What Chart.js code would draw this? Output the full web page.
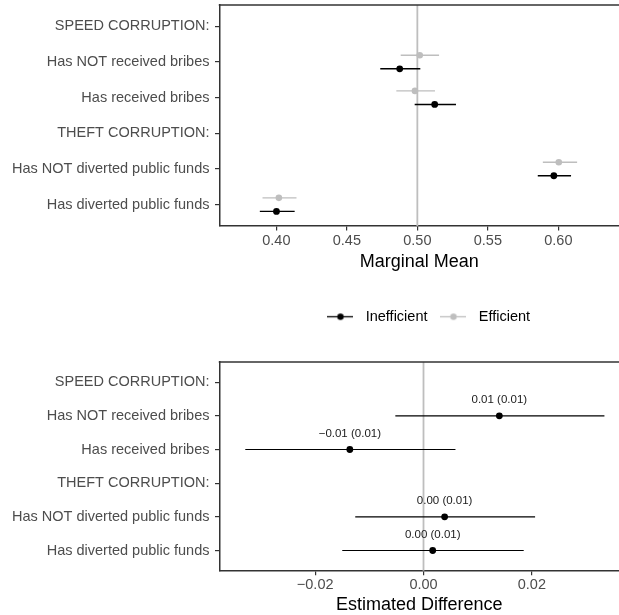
<!DOCTYPE html>
<html>
<head>
<meta charset="utf-8">
<script src="https://cdn.jsdelivr.net/npm/chart.js@4.4.1/dist/chart.umd.min.js"></script>
<style>
  body { margin: 0; background: #fff; }
  canvas { display: block; }
</style>
</head>
<body>
<canvas id="meanChart" width="619" height="337"></canvas>
<canvas id="diffChart" width="619" height="278"></canvas>
<script>
// --- data ---
const categories = [
    'SPEED CORRUPTION:',
    'Has NOT received bribes',
    'Has received bribes',
    'THEFT CORRUPTION:',
    'Has NOT diverted public funds',
    'Has diverted public funds'
];
const seriesNames = ['Inefficient', 'Efficient'];

// marginal means (null = header row)
const ineffMean = [null, 0.4875, 0.5123, null, 0.5968, 0.4001];
const ineffLow  = [null, 0.4737, 0.4981, null, 0.5854, 0.3883];
const ineffHigh = [null, 0.5021, 0.5274, null, 0.6090, 0.4130];
const effMean   = [null, 0.5017, 0.4983, null, 0.6003, 0.4018];
const effLow    = [null, 0.4882, 0.4851, null, 0.5890, 0.3902];
const effHigh   = [null, 0.5154, 0.5125, null, 0.6133, 0.4143];

// estimated differences
const diffEst    = [null, 0.0140, -0.0136, null, 0.0039, 0.0017];
const diffLow    = [null, -0.0052, -0.0329, null, -0.0126, -0.0150];
const diffHigh   = [null, 0.0334, 0.0059, null, 0.0206, 0.0185];
const diffLabels = ['', '0.01 (0.01)', '\u22120.01 (0.01)', '', '0.00 (0.01)', '0.00 (0.01)'];

const mmTicks = [0.40, 0.45, 0.50, 0.55, 0.60];
const mmTickLabels = ['0.40', '0.45', '0.50', '0.55', '0.60'];
const diffTicks = [-0.02, 0, 0.02];
const diffTickLabels = ['\u22120.02', '0.00', '0.02'];

Chart.defaults.font.family = "'Liberation Sans', Arial, Helvetica, sans-serif";
Chart.defaults.animation = false;

const BLACK = '#000000';
const GREY = '#bebebe';
const AXIS = '#333333';

function toPoints(mean, low, high, shift) {
    const pts = [];
    mean.forEach((m, i) => {
        if (m === null) return;
        pts.push({ x: m, y: i + 1 + shift, lo: low[i], hi: high[i], lab: i });
    });
    return pts;
}

// reference line, top border, error bars, optional text labels
const panelExtras = {
    id: 'panelExtras',
    afterLayout(chart, args, opts) {
        // nudge the legend a bit right, like the original
        if (opts.legendShift && chart.legend) {
            chart.legend.left += opts.legendShift;
            chart.legend.right += opts.legendShift;
        }
    },
    beforeDatasetsDraw(chart, args, opts) {
        const { ctx, chartArea: a, scales: { x } } = chart;
        ctx.save();
        const rx = x.getPixelForValue(opts.refValue);
        ctx.strokeStyle = GREY;
        ctx.lineWidth = 1.8;
        ctx.beginPath(); ctx.moveTo(rx, a.top); ctx.lineTo(rx, a.bottom); ctx.stroke();

        ctx.strokeStyle = AXIS;
        ctx.lineWidth = 1.5;
        ctx.beginPath(); ctx.moveTo(a.left - 0.75, a.top); ctx.lineTo(a.right, a.top); ctx.stroke();

        chart.data.datasets.forEach((ds, di) => {
            const meta = chart.getDatasetMeta(di);
            ctx.strokeStyle = ds.borderColor;
            ctx.lineWidth = opts.barWidth;
            meta.data.forEach((pt, i) => {
                const d = ds.data[i];
                ctx.beginPath();
                ctx.moveTo(x.getPixelForValue(d.lo), pt.y);
                ctx.lineTo(x.getPixelForValue(d.hi), pt.y);
                ctx.stroke();
            });
        });
        ctx.restore();
    },
    afterDatasetsDraw(chart, args, opts) {
        if (!opts.labels) return;
        const { ctx } = chart;
        ctx.save();
        ctx.font = "11.5px 'Liberation Sans', Arial, sans-serif";
        ctx.fillStyle = '#1a1a1a';
        ctx.textAlign = 'center';
        ctx.textBaseline = 'middle';
        const ds = chart.data.datasets[0];
        chart.getDatasetMeta(0).data.forEach((pt, i) => {
            ctx.fillText(opts.labels[ds.data[i].lab], pt.x, pt.y - 16);
        });
        ctx.restore();
    }
};

function noLabelPadding(s) {
    s.paddingTop = 0; s.paddingBottom = 0; s.paddingLeft = 0; s.paddingRight = 0;
}

function yScale() {
    return {
        type: 'linear',
        reverse: true,
        min: 0.4,
        max: 6.6,
        afterBuildTicks: s => { s.ticks = categories.map((c, i) => ({ value: i + 1 })); },
        afterFit: s => { s.width = 219.5; noLabelPadding(s); },
        ticks: {
            callback: v => categories[Math.round(v) - 1],
            color: '#4d4d4d',
            font: { size: 14.5 },
            padding: 5.5,
            autoSkip: false
        },
        grid: { drawOnChartArea: false, tickLength: 4.5, color: AXIS, lineWidth: 1.2 },
        border: { color: AXIS, width: 1.5 }
    };
}

function xScale(min, max, ticks, labels, title, tickPad, titlePad) {
    return {
        type: 'linear',
        min: min,
        max: max,
        afterBuildTicks: s => { s.ticks = ticks.map(v => ({ value: v })); },
        afterFit: s => noLabelPadding(s),
        ticks: {
            callback: (v, i) => labels[i],
            color: '#4d4d4d',
            font: { size: 14.5, lineHeight: 1 },
            padding: tickPad,
            maxRotation: 0,
            autoSkip: false
        },
        grid: { drawOnChartArea: false, tickLength: 4.5, color: AXIS, lineWidth: 1.2 },
        border: { color: AXIS, width: 1.5 },
        title: {
            display: true,
            text: title,
            color: '#000',
            font: { size: 18, lineHeight: 1 },
            padding: titlePad
        }
    };
}

function legendMarker(color) {
    const c = document.createElement('canvas');
    c.width = 26; c.height = 9;
    const g = c.getContext('2d');
    g.strokeStyle = color; g.lineWidth = 1.3;
    g.beginPath(); g.moveTo(0, 4.5); g.lineTo(26, 4.5); g.stroke();
    g.fillStyle = color;
    g.beginPath(); g.arc(13, 4.5, 3.2, 0, Math.PI * 2); g.fill();
    return c;
}
const markers = [legendMarker(BLACK), legendMarker(GREY)];

// --- top panel: marginal means ---
new Chart(document.getElementById('meanChart'), {
    type: 'scatter',
    data: {
        datasets: [
            {
                label: seriesNames[1],
                data: toPoints(effMean, effLow, effHigh, -0.19),
                backgroundColor: GREY, borderColor: GREY,
                pointRadius: 3.3, pointBorderWidth: 0, pointHoverRadius: 3.3
            },
            {
                label: seriesNames[0],
                data: toPoints(ineffMean, ineffLow, ineffHigh, 0.19),
                backgroundColor: BLACK, borderColor: BLACK,
                pointRadius: 3.4, pointBorderWidth: 0, pointHoverRadius: 3.4
            }
        ]
    },
    options: {
        responsive: false,
        layout: { autoPadding: false, padding: { top: 5, bottom: 3, left: 0, right: 0 } },
        scales: {
            x: xScale(0.3597, 0.643, mmTicks, mmTickLabels, 'Marginal Mean', 3.25, { top: 1.5, bottom: 30.5 }),
            y: yScale()
        },
        plugins: {
            panelExtras: { refValue: 0.5, barWidth: 1.4, legendShift: 7 },
            tooltip: { enabled: false },
            legend: {
                position: 'bottom',
                fullSize: false,
                align: 'center',
                onClick: null,
                labels: {
                    usePointStyle: true,
                    pointStyleWidth: 36,
                    padding: 8,
                    color: '#000',
                    font: { size: 14.5 },
                    generateLabels: () => seriesNames.map((n, i) => ({
                        text: n,
                        pointStyle: markers[i],
                        fillStyle: 'transparent',
                        strokeStyle: 'transparent',
                        lineWidth: 0,
                        hidden: false,
                        datasetIndex: 1 - i
                    }))
                }
            }
        }
    },
    plugins: [panelExtras]
});

// --- bottom panel: estimated difference ---
new Chart(document.getElementById('diffChart'), {
    type: 'scatter',
    data: {
        datasets: [{
            label: 'Difference',
            data: toPoints(diffEst, diffLow, diffHigh, 0),
            backgroundColor: BLACK, borderColor: BLACK,
            pointRadius: 3.4, pointBorderWidth: 0, pointHoverRadius: 3.4
        }]
    },
    options: {
        responsive: false,
        layout: { autoPadding: false, padding: { top: 25, bottom: 0, left: 0, right: 0 } },
        scales: {
            x: xScale(-0.03766, 0.03609, diffTicks, diffTickLabels, 'Estimated Difference', 2.55, { top: 1.2, bottom: 1 }),
            y: yScale()
        },
        plugins: {
            panelExtras: { refValue: 0, barWidth: 1.1, labels: diffLabels },
            tooltip: { enabled: false },
            legend: { display: false }
        }
    },
    plugins: [panelExtras]
});
</script>
</body>
</html>
